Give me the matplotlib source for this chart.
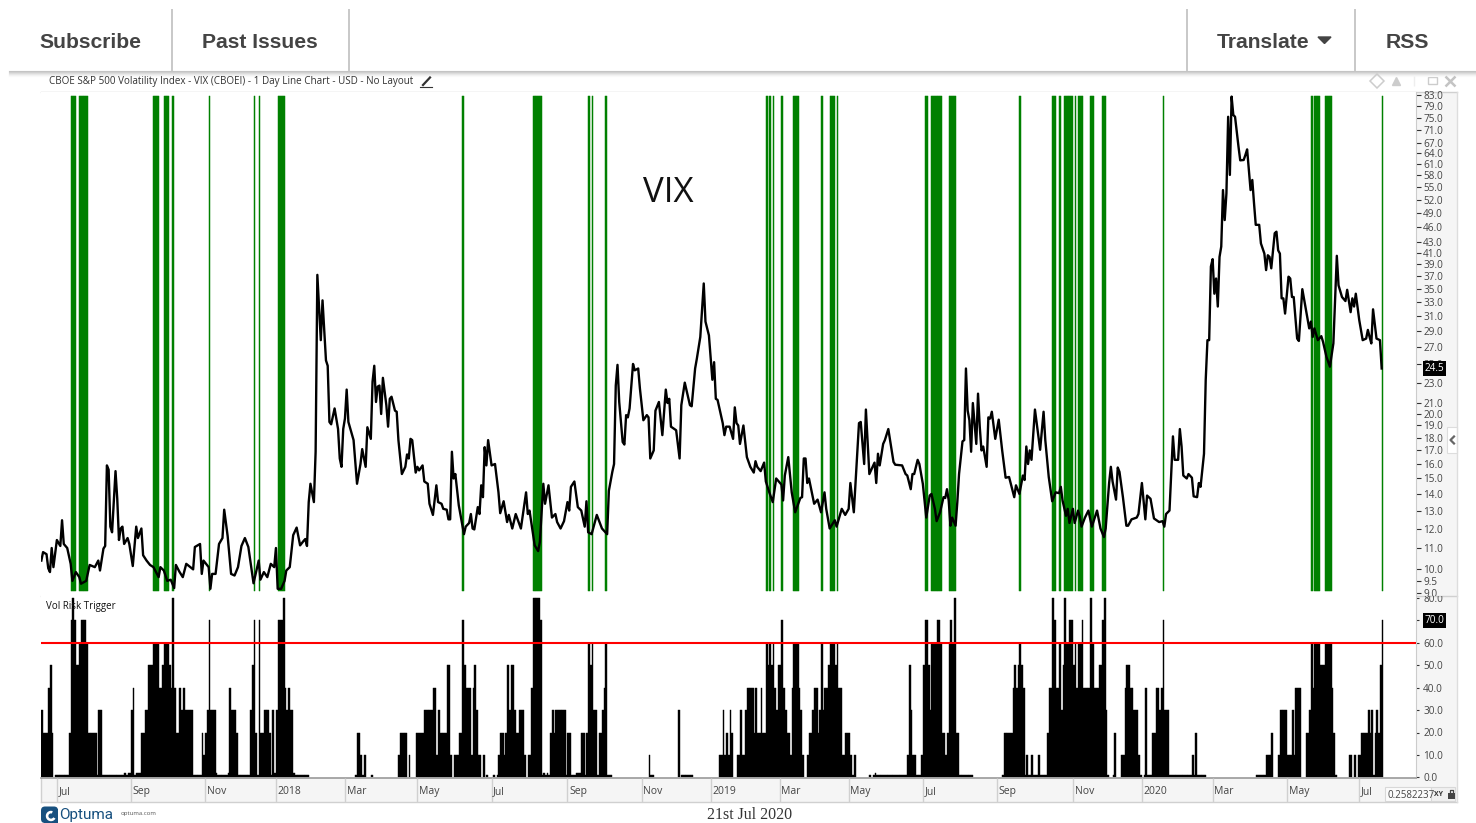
import numpy as np
from matplotlib import pyplot as plt
from matplotlib.patches import Rectangle, FancyBboxPatch, Wedge, Polygon
from matplotlib.transforms import Bbox
from matplotlib.ticker import NullLocator

W, H = 1476, 823
plt.rcParams['font.family'] = ['Open Sans', 'DejaVu Sans']

# VIX close (trading day number, value)
vix_day = [0, 1, 3, 4, 5, 6, 7, 9, 11, 12, 13, 15, 17, 18, 20, 22, 23, 26, 28, 31, 33, 34, 36, 37, 38, 39, 40, 41, 43, 44,
           45, 46, 47, 48, 50, 51, 53, 55, 56, 58, 59, 61, 63, 65, 67, 68, 69, 71, 73, 75, 77, 78, 80, 82, 84, 88, 89, 92, 93, 94,
           97, 98, 99, 101, 103, 105, 106, 108, 110, 112, 114, 116, 118, 120, 123, 126, 127, 129, 131, 133, 135, 136, 137, 139, 141, 142, 144,
           146, 148, 150, 152, 153, 154, 155, 156, 158, 159, 160, 162, 163, 165, 166, 167, 168, 170, 172, 173, 174, 175, 176, 177, 178, 181, 183, 185,
           186, 188, 189, 191, 192, 193, 194, 195, 196, 197, 198, 200, 201, 202, 203, 205, 206, 207, 209, 211, 212, 213, 214, 215, 217, 218, 219, 221, 222, 224,
           225, 227, 229, 230, 232, 233, 235, 236, 237, 238, 239, 240, 242, 245, 246, 248, 249, 250, 251, 253, 254, 255, 256, 257, 258, 259, 261, 263, 265, 266,
           268, 270, 271, 273, 275, 278, 281, 282, 283, 286, 288, 289, 291, 292, 294, 296, 298, 299, 301, 303, 305, 306, 307, 309, 311, 313, 315, 316, 317, 319,
           322, 325, 328, 329, 331, 332, 333, 334, 335, 337, 338, 339, 340, 341, 343, 344, 346, 347, 349, 351, 352, 353, 355, 356, 358, 360, 362, 363, 364, 365,
           368, 370, 371, 373, 376, 377, 379, 380, 382, 384, 385, 387, 389, 390, 391, 392, 395, 396, 397, 399, 401, 402, 403, 404, 405, 407, 409, 411, 413, 414,
           415, 417, 419, 420, 422, 424, 426, 429, 430, 431, 433, 435, 437, 440, 441, 442, 443, 444, 445, 448, 450, 452, 454, 455, 457, 460, 461, 464, 466, 468,
           469, 471, 474, 475, 477, 478, 480, 483, 484, 485, 486, 488, 489, 491, 494, 495, 499, 501, 502, 504, 505, 506, 508, 509, 511, 513, 515, 516, 518, 519,
           521, 523, 524, 525, 526, 527, 528, 530, 531, 532, 534, 535, 536, 537, 538, 539, 540, 542, 543, 544, 545, 546, 548, 549, 550, 551, 553, 555, 557, 559,
           561, 564, 565, 567, 569, 570, 571, 572, 573, 574, 576, 579, 581, 582, 584, 586, 588, 590, 591, 592, 594, 595, 596, 598, 599, 601, 602, 603, 605, 607,
           609, 611, 612, 614, 616, 617, 619, 620, 621, 623, 624, 625, 627, 629, 630, 632, 635, 636, 638, 640, 641, 643, 645, 648, 650, 651, 652, 654, 656, 657,
           659, 660, 661, 662, 664, 665, 667, 668, 670, 671, 672, 674, 675, 676, 677, 678, 679, 680, 681, 682, 683, 684, 685, 686, 687, 688, 689, 690, 691, 692,
           694, 695, 697, 698, 699, 701, 702, 703, 704, 706, 707, 709, 710, 711, 712, 713, 715, 716, 717, 718, 719, 720, 721, 723, 724, 725, 726, 728, 729, 731,
           733, 735, 736, 737, 738, 740, 742, 743, 745, 747, 749, 751, 752, 754, 756, 757, 759, 760, 761, 762, 764, 766, 768, 769, 770, 771, 772, 774, 776, 777]
vix_val = [10.4, 10.8, 10.7, 10.05, 9.88, 11, 10.1, 11.4, 11.1, 12.45, 11.2, 11, 10.25, 9.5, 9.88, 9.66, 9.38, 9.5, 10.2, 10.1, 10.4, 9.95, 10.97, 11.1, 15.9, 15.6, 12.1, 11.8, 15.5, 13.7,
           11.4, 12, 12.1, 11.2, 11.5, 11.2, 10.15, 12.1, 11.5, 12, 10.65, 10.4, 10.2, 10.1, 9.8, 9.66, 10.1, 9.95, 9.5, 9.55, 9.2, 10.2, 9.9, 9.66, 10.25, 10, 11.05, 11.2, 9.8, 10.4,
           10.1, 9.17, 9.8, 9.8, 11.2, 11.5, 13.05, 11.6, 9.8, 9.73, 10.1, 11.1, 11.5, 11.05, 9.4, 10.4, 9.55, 9.88, 9.66, 10.25, 10.1, 11, 9.17, 9.17, 9.5, 9.95, 10.1,
           11.65, 12.05, 11.13, 11.35, 11.45, 11.1, 13.5, 14.65, 13.5, 16.9, 37.2, 27.8, 33.2, 25.4, 24.8, 19.3, 19.1, 20.5, 18.7, 16.4, 15.8, 18.7, 19.6, 22.3, 19.3, 17.8, 14.65, 16,
           17.1, 15.8, 18.85, 17.9, 23.1, 24.8, 21.1, 22.6, 22.7, 20, 23.5, 20.8, 18.9, 21.4, 21.6, 20.3, 20.2, 17.8, 15.3, 15.8, 16.7, 16.4, 17.9, 17.8, 15.4, 15.8, 15.55, 15.9, 14.8, 14.65,
           13.4, 12.75, 14.55, 13.5, 13.4, 13.1, 13.05, 12.5, 12.5, 16.9, 15, 15.3, 13.3, 11.7, 12.1, 12.3, 12.8, 12, 11.95, 13.2, 12.8, 14.55, 13.8, 17.25, 15.9, 17.8, 15.9, 16, 14.1, 12.85,
           13.55, 12.35, 12.75, 12, 12.8, 12, 14.1, 12.8, 13, 11.13, 10.85, 11.3, 14.65, 13.4, 14.55, 12.6, 12.8, 12.35, 12, 12.4, 13.5, 13, 14.45, 14.8, 13.2, 13, 12.1, 13.55, 11.8, 11.7,
           12.75, 12, 11.7, 14.2, 15.45, 16, 22.7, 24.9, 21.1, 17.65, 17.45, 19.9, 19.7, 20.5, 25, 24.3, 24.5, 22.4, 19.45, 19.9, 19.7, 16.4, 17, 20.3, 21.1, 18.2, 22.3, 21, 21.4, 18.9,
           18.6, 16.4, 20.8, 23, 20.8, 20.7, 24.5, 25.6, 28.2, 35.8, 30.2, 28.4, 23.3, 25.2, 21.4, 21.3, 19.2, 18.2, 18.9, 18.9, 17.9, 20.6, 19.2, 19, 17.5, 19, 16.5, 15.8, 15.4, 16.2,
           15.8, 15.5, 16.1, 14.8, 14.1, 13.5, 15, 14.6, 13.6, 15.2, 16.5, 14.1, 12.9, 13.75, 13.8, 16.4, 16.4, 14.7, 15, 13.4, 13.65, 12.9, 14.1, 13.1, 12, 12.45, 12.1, 13.1, 12.75, 13.1,
           14.7, 12.9, 19.2, 19.3, 16, 20.4, 15.3, 16.1, 14.7, 16.75, 15.9, 17.5, 17.8, 18.7, 16.15, 15.95, 15.9, 15.3, 15.2, 14.3, 15.3, 15.3, 16.3, 16, 14.65, 12.6, 13.9, 14, 13.1, 12.4,
           12.9, 13.8, 13.75, 14.3, 13.6, 12.15, 12.6, 12.15, 13.5, 15.3, 17.7, 17.8, 24.5, 20.3, 19.45, 16.9, 21, 17.5, 21.9, 18.9, 17, 17.3, 15.8, 19.7, 19.6, 20.2, 17.9, 19.5, 17, 15.05,
           15.1, 13.8, 14.55, 14, 15.2, 14.9, 17.3, 16, 17, 16.3, 20.4, 17.05, 20.2, 17.8, 15.1, 13.55, 14.1, 14.05, 14.45, 13.6, 12.7, 13.1, 12.3, 13.1, 12.3, 13, 12.65, 12.1, 12.6, 13,
           12.1, 12.7, 13, 12, 11.55, 12, 14.7, 15.8, 14.8, 13.65, 15.75, 15.45, 13.8, 12.15, 12.15, 12.5, 12.6, 12.8, 14.7, 12.5, 13.9, 13.7, 12.55, 12.35, 12.4, 12.1, 12.8, 13, 18.1, 16.3,
           16.3, 18.7, 17.3, 15.2, 15, 15.3, 15.05, 13.85, 13.8, 14.7, 14.45, 16.75, 23.3, 27.8, 27.8, 38.6, 39.9, 34.2, 36.6, 32.3, 40.3, 42.2, 54.3, 47.5, 53.5, 75.3, 58.1, 82.4, 75.9, 75.3,
           65.9, 62, 62.1, 63.5, 65.1, 54.3, 56.8, 51.2, 46.5, 46.5, 42.8, 40.9, 38, 40.6, 40.3, 38.3, 44.8, 45.1, 41.5, 40.9, 33.5, 33.5, 31.3, 36.9, 36.6, 33.7, 33.7, 28, 27.7, 34.9,
           32, 29.3, 30.2, 28.2, 29.3, 27.8, 28.3, 27.6, 25.8, 24.7, 27.4, 40.5, 35.5, 33.7, 33.1, 34.8, 31.5, 33.5, 32.3, 34.2, 30.4, 27.8, 28, 29.1, 28.2, 27.4, 31.9, 28, 27.8, 24.5]

# Vol Risk Trigger: day each level starts on, and the level from that day
trig_start = [0, 1, 4, 5, 6, 7, 8, 16, 17, 18, 19, 20, 22, 23, 26, 27, 32, 33, 35, 48, 49, 50, 52, 53, 54, 55, 58, 60, 62, 65,
              68, 70, 71, 74, 75, 76, 77, 78, 80, 81, 82, 83, 88, 93, 94, 95, 96, 97, 98, 101, 102, 108, 109, 110, 113, 114, 121, 122, 123, 124,
              125, 126, 127, 129, 132, 133, 134, 135, 136, 137, 140, 141, 142, 143, 144, 146, 147, 155,
              182, 183, 185, 186, 187, 188, 191, 192, 207, 208, 212, 213, 214, 217, 222, 227, 229, 230, 231, 235, 237, 238, 239, 242, 244, 245, 246, 249, 250, 251,
              252, 253, 255, 256, 257, 258, 259, 262, 263, 264, 265, 266, 268, 269, 270, 271, 272, 274, 275, 277, 280, 281, 282, 284, 285, 289, 290, 291, 292, 293,
              294, 295, 296, 297, 298, 304, 305, 307, 310, 313, 315, 316, 317, 318, 319, 320, 322, 323, 325, 326, 327, 328, 331, 352, 353, 355, 369, 370, 371, 378,
              393, 395, 396, 397, 398,
              399, 400, 401, 403, 405, 406, 408, 409, 413, 414, 415, 417, 418, 420, 421, 422, 423, 424, 425, 426, 427, 429, 430, 431, 432, 434, 435, 436, 439, 440,
              441, 442, 444, 445, 447, 448, 450, 451, 452, 453, 454, 456, 457, 460, 461, 462, 464, 466, 469, 470, 471, 472, 480, 481, 482, 483, 484, 502, 503, 504,
              505, 507, 510, 511, 512, 514, 515, 516, 519, 521, 522, 524, 525, 526, 527, 528, 529, 530, 532, 540, 557, 558, 563, 564, 565, 566, 567, 568, 569, 570,
              571, 572, 574, 575, 578, 579, 583, 584, 586, 587, 588, 590, 591, 592, 593, 594, 596, 598, 599, 600, 601, 603, 604, 608, 609, 610, 613, 615, 616,
              617, 618, 619, 621, 622, 623, 626, 628, 629, 631, 633, 636, 637, 638, 639, 640, 641, 644, 646, 648, 649, 650, 651, 654, 667, 668, 669, 670, 675, 704,
              710, 713, 714, 717, 718, 722, 725, 726, 727, 730, 733, 735, 736, 737, 738, 741, 744, 748, 749, 750, 751, 758, 760, 761, 762, 763, 765, 769, 770, 771,
              772, 773, 774, 775, 776, 777]
trig_level = [30, 20, 40, 50, 20, 0, 1, 20, 70, 80, 70, 50, 60, 70, 60, 20, 1, 30, 1, 2, 1, 2, 30, 40, 1, 2, 20, 30, 50, 60,
              40, 50, 60, 50, 40, 80, 40, 20, 40, 30, 40, 30, 1, 20, 10, 20, 30, 70, 30, 2, 1, 2, 40, 30, 20, 1, 30, 50, 70, 20,
              1, 70, 20, 30, 20, 1, 30, 2, 30, 70, 80, 40, 30, 40, 30, 2, 1, 0,
              1, 20, 10, 1, 10, 0, 1, 0, 10, 20, 0, 10, 0, 20, 30, 40, 10, 30, 20, 50, 10, 0, 10, 20, 70, 50, 40, 10, 40, 50,
              30, 10, 0, 10, 0, 1, 0, 1, 0, 1, 10, 20, 10, 20, 50, 30, 50, 30, 20, 30, 10, 0, 10, 40, 80, 70, 1, 2, 1, 2,
              1, 20, 30, 20, 30, 1, 20, 1, 2, 20, 1, 20, 60, 50, 60, 30, 1, 20, 30, 40, 60, 1, 0, 10, 1, 0, 30, 0, 1, 0,
              10, 30, 10, 20, 10,
              30, 20, 0, 10, 30, 10, 30, 40, 20, 40, 20, 40, 20, 60, 50, 60, 50, 60, 40, 30, 50, 70, 40, 30, 20, 10, 40, 60, 40, 30,
              10, 0, 10, 20, 30, 40, 20, 30, 60, 30, 40, 50, 60, 50, 60, 40, 10, 20, 10, 1, 10, 0, 1, 0, 1, 2, 1, 10, 50, 30,
              10, 1, 10, 50, 70, 50, 30, 60, 70, 60, 20, 10, 20, 60, 70, 60, 80, 20, 1, 0, 1, 20, 40, 50, 40, 50, 60, 50, 40, 1,
              10, 1, 10, 1, 10, 1, 20, 40, 80, 70, 40, 60, 30, 50, 80, 60, 70, 50, 60, 40, 60, 70, 40, 80, 60, 40, 50, 70, 80,
              30, 1, 0, 1, 20, 0, 10, 40, 50, 40, 30, 10, 1, 0, 1, 40, 1, 20, 40, 30, 40, 70, 30, 1, 10, 1, 20, 1, 0, 1,
              10, 20, 0, 10, 30, 10, 30, 10, 40, 0, 20, 30, 60, 40, 60, 50, 60, 40, 20, 1, 0, 10, 0, 10, 0, 10, 20, 30, 20, 30,
              1, 20, 30, 20, 50, 70]
n_days = 778
trig_line = 60

vix_ticks = [83, 79, 75, 71, 67, 64, 61, 58, 55, 52, 49, 46, 43, 41, 39, 37, 35, 33, 31, 29, 27, 25, 23, 21, 20, 19, 18,
             17, 16, 15, 14, 13, 12, 11, 10, 9.5, 9]
trig_ticks = [0, 10, 20, 30, 40, 50, 60, 70, 80]
month_day = [9, 52, 95, 136, 176, 218, 261, 305, 348, 388, 428, 468, 511, 554, 598, 638, 679, 722, 764]
month_lab = ['Jul', 'Sep', 'Nov', '2018', 'Mar', 'May', 'Jul', 'Sep', 'Nov', '2019', 'Mar', 'May', 'Jul', 'Sep', 'Nov',
             '2020', 'Mar', 'May', 'Jul']

trig = np.repeat(trig_level, np.diff(trig_start + [n_days]))
days = np.arange(n_days)
hot = days[trig >= trig_line]
busy = trig > 0


def px_axes(l, t, r, b, **kw):
    return fig.add_axes([l / W, 1 - b / H, (r - l) / W, (b - t) / H], **kw)


fig = plt.figure(figsize=(W / 100, H / 100), dpi=100)

# page furniture, in pixels
pg = fig.add_axes([0, 0, 1, 1], zorder=-1)
pg.set_xlim(0, W)
pg.set_ylim(H, 0)
pg.axis('off')
for i, g in enumerate(['#c4c4c4', '#cfcfcf', '#dcdcdc', '#e8e8e8', '#f2f2f2', '#f9f9f9']):
    pg.plot([9, W], [70.5 + i, 70.5 + i], color=g, lw=0.8)
for x in [172, 349, 1187, 1355]:
    pg.plot([x, x], [10, 70], color='#c8c8c8', lw=1.4)
head = dict(family='Liberation Sans', weight='bold', size=15.2, color='#444444', va='center')
pg.text(39.5, 42, 'Subscribe', **head)
pg.text(202.5, 42, 'Past Issues', **head)
pg.text(1217, 42, 'Translate', **head)
pg.text(1386, 42, 'RSS', **head)
pg.add_patch(Polygon([[1318, 37], [1331, 37], [1324.5, 43.5]], color='#444444'))

pg.text(49, 81, 'CBOE S&P 500 Volatility Index - VIX (CBOEI) - 1 Day Line Chart - USD - No Layout',
        size=7.1, color='#333333', va='center')
pg.plot([423, 430], [85, 77.5], color='#333333', lw=1.6)
pg.plot([420, 432], [87, 87], color='#333333', lw=0.8)

pg.plot([1377], [81], marker='D', ms=7, mfc='none', mec='#cccccc', mew=1.1)
pg.plot([1396], [80.5], marker='^', ms=6, color='#cccccc')
pg.plot([1414], [81], marker='|', ms=7, color='#eeeeee')
pg.add_patch(Rectangle((1428, 77), 8.5, 7, fc='none', ec='#cccccc', lw=1))
pg.plot([1450], [80.5], marker='x', ms=6.5, mec='#c4c4c4', mew=1.8)

pg.add_patch(Rectangle((1416, 92), 41, 710, fc='#f5f5f5', ec='none'))
pg.add_patch(Rectangle((41, 778), 1416, 24, fc='#f5f5f5', ec='none'))
pg.plot([41, 1457], [92, 92], color='#d0d0d0', lw=1)
pg.plot([41, 1457], [595.5, 595.5], color='#d0d0d0', lw=1)
pg.plot([41, 1457], [802, 802], color='#d0d0d0', lw=1)
pg.plot([1457, 1457], [92, 802], color='#dddddd', lw=1)
pg.plot([41, 41], [778, 802], color='#d0d0d0', lw=1)

pg.add_patch(Rectangle((1447, 427), 10, 26, fc='white', ec='#dddddd', lw=0.8))
pg.plot([1454, 1450.5, 1454], [436.5, 440, 443.5], color='#666666', lw=1.6)

pg.add_patch(Rectangle((1385, 787), 46, 14, fc='#fbfbfb', ec='#d8d8d8', lw=0.8))
pg.text(1387, 795, '0.2582237', size=7, color='#444444', va='center', clip_on=True)
pg.add_patch(Rectangle((1431, 787), 24, 14, fc='#f0f0f0', ec='#d8d8d8', lw=0.8))
pg.text(1434, 794.5, 'XY', size=5, weight='bold', color='#333333', va='center')
pg.add_patch(Rectangle((1448, 793), 6.5, 6, fc='#444444', ec='none'))
pg.plot([1449.5, 1449.5, 1453, 1453], [793, 790, 790, 793], color='#444444', lw=0.9)

pg.add_patch(FancyBboxPatch((44, 809), 14, 14, boxstyle='round,pad=0,rounding_size=0', fc='#17507f', ec='none'))
pg.add_patch(FancyBboxPatch((41, 806.5), 17, 16.5, boxstyle='round,pad=0,rounding_size=4', fc='#17507f', ec='none'))
pg.add_patch(Wedge((51, 816), 5.2, 30, 290, width=2.6, fc='white', ec='none'))
pg.text(59, 815, 'Optuma', family='Roboto', size=11, color='#17507f', va='center')
pg.text(120.5, 813.5, 'optuma.com', size=4.3, color='#555555', va='center')
pg.text(749.5, 815, '21st Jul 2020', family='Liberation Serif', size=11.4, color='#333333', va='center', ha='center')

# VIX panel
ax = px_axes(41, 92, 1416, 595.5)
ax.plot(vix_day, vix_val, color='k', lw=1.7, solid_joinstyle='round', zorder=3)
ax.bar(hot, 82.6 - 9.1, bottom=9.1, width=1, align='edge', color='#008000', edgecolor='#008000', linewidth=0.35,
       zorder=2)
ax.set_yscale('log')
ax.set_ylim(8.9, 84.1)
ax.set_xlim(-0.2, 796.9)
ax.yaxis.set_minor_locator(NullLocator())
ax.yaxis.tick_right()
ax.set_yticks(vix_ticks)
ax.set_yticklabels([f'{v:.1f}' for v in vix_ticks])
ax.yaxis.set_minor_locator(NullLocator())
ax.tick_params(axis='y', length=3.6, width=0.8, color='#333333', labelsize=7.2, labelcolor='#444444', pad=1.5)
ax.set_xticks([])
for s in ax.spines.values():
    s.set_visible(False)
ax.spines['right'].set_visible(True)
ax.spines['right'].set_color('#cccccc')
for t in ax.yaxis.get_major_ticks():
    t.label2.set_clip_box(Bbox([[0, H - 595.5], [W, H]]))
    t.label2.set_clip_on(True)
ax.text(668.5, 193, 'VIX', size=25, color='#111111', ha='center', va='center',
        transform=pg.transData)
ax.text(1.0062, vix_val[-1], f'{vix_val[-1]:.1f}', transform=ax.get_yaxis_transform(), size=7.2, color='white',
        va='center', ha='left', clip_on=False, zorder=6,
        bbox=dict(fc='k', ec='none', boxstyle='square,pad=0.2'))

# trigger panel
tx = px_axes(41, 596, 1416, 778)
tx.bar(days[busy], trig[busy], width=1, align='edge', color='k', edgecolor='k', linewidth=0.3, zorder=2)
tx.axhline(trig_line, color='#ff0000', lw=1.5, zorder=3)
tx.set_ylim(-0.3, 80.9)
tx.set_xlim(-0.2, 796.9)
tx.yaxis.tick_right()
tx.set_yticks(trig_ticks)
tx.set_yticklabels([f'{v:.1f}' for v in trig_ticks])
tx.tick_params(axis='y', length=2, width=0.8, color='#333333', labelsize=7.2, labelcolor='#444444', pad=3.2)
tx.set_xticks([])
for s in tx.spines.values():
    s.set_visible(False)
tx.spines['right'].set_visible(True)
tx.spines['right'].set_color('#cccccc')
tx.spines['bottom'].set_visible(True)
tx.spines['bottom'].set_color('#999999')
tx.spines['bottom'].set_linewidth(1.2)
for t in tx.yaxis.get_major_ticks():
    t.label2.set_clip_box(Bbox([[0, 0], [W, H - 595.5]]))
    t.label2.set_clip_on(True)
tx.text(46, 607, 'Vol Risk Trigger', size=7, color='#111111', va='center', transform=pg.transData, zorder=5)
tx.text(1.0062, trig[-1], f'{trig[-1]:.1f}', transform=tx.get_yaxis_transform(), size=7.2, color='white',
        va='center', ha='left', clip_on=False, zorder=6,
        bbox=dict(fc='k', ec='none', boxstyle='square,pad=0.2'))

# month strip
mx = px_axes(41, 778, 1416, 802)
mx.patch.set_alpha(0)
mx.set_xlim(-0.2, 796.9)
mx.set_ylim(0, 1)
mx.axis('off')
mx.vlines(month_day, 0, 1, color='#d0d0d0', lw=1)
for d, lab in zip(month_day, month_lab):
    mx.text(d + 1, 0.45, lab, size=7.5, color='#444444', va='center')

fig.savefig('out.png', dpi=100)
